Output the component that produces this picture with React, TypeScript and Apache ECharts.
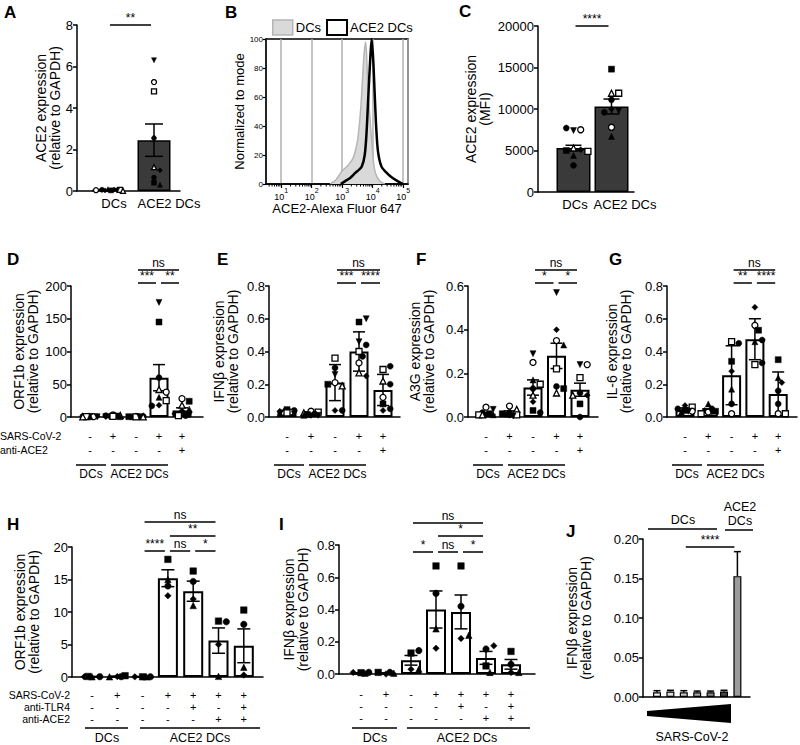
import React, { useEffect, useRef } from "react";
import * as echarts from "echarts";

const FONT = "'Liberation Sans', Arial, Helvetica, sans-serif";

// ---------------- data ----------------
// Panel A
const A_CATS = ["DCs", "ACE2 DCs"];
const A_MEAN = [0.05, 2.45];
const A_ERR = [0.02, 0.78];
const A_PTS = [
  [0.09, 0.07, 0.06, 0.05, 0.04, 0.03, 0.03, 0.02, 0.01],
  [6.3, 5.25, 4.8, 2.55, 1.15, 1.0, 0.65, 0.4, 0.3],
];
const A_SYM = ["tdcSosdvT", "voScTdcst"];
const A_SIG_PAIRS = [[0, 1]];
const A_SIG_TEXT = ["**"];

// Panel B (flow histogram)
const B_DC_X = [400, 630, 1000, 1580, 2300, 2800, 3300, 4000, 4600, 5250, 5900, 6300, 6900, 7900, 9300, 10700, 12600, 17000, 25000];
const B_DC_Y = [0, 3, 9, 13, 18, 24, 32, 50, 70, 90, 98, 90, 70, 50, 30, 15, 7, 2, 0];
const B_ACE_X = [900, 1260, 1780, 2500, 3200, 4400, 5500, 6300, 7200, 8300, 9300, 10500, 11700, 13200, 15100, 19500, 28000, 40000, 66000, 100000];
const B_ACE_Y = [0, 2, 4, 7, 9, 12, 20, 35, 60, 85, 100, 85, 62, 38, 22, 12, 8, 5, 2, 0];
const B_NAMES = ["DCs", "ACE2 DCs"];

// Panel C
const C_CATS = ["DCs", "ACE2 DCs"];
const C_MEAN = [5300, 10300];
const C_ERR = [330, 900];
const C_PTS = [
  [7400, 7500, 7700, 5300, 5100, 5000, 4900, 4400, 3200],
  [14800, 11900, 11900, 11100, 10000, 9800, 9600, 7800, 6700],
];
const C_SYM = ["vocTdsStc", "sTScdvcot"];
const C_SIG_PAIRS = [[0, 1]];
const C_SIG_TEXT = ["****"];

// Rows of treatment signs
const ROW5_SARS = ["-", "+", "-", "+", "+"];
const ROW5_ACE2 = ["-", "-", "-", "-", "+"];
const ROW7_SARS = ["-", "+", "-", "+", "+", "+", "+"];
const ROW7_TLR4 = ["-", "-", "-", "-", "+", "-", "+"];
const ROW7_ACE2 = ["-", "-", "-", "-", "-", "+", "+"];
const GROUPS = ["DCs", "ACE2 DCs"];

// Panel D
const D_MEAN = [1, 2, 1, 60, 10];
const D_ERR = [0.5, 0.5, 0.3, 20, 4];
const D_PTS = [
  [1, 1, 1, 0.5, 0.5, 0.5, 0.5, 0.3],
  [3, 2.5, 2, 1.5, 1, 1, 0.5, 0.5],
  [1, 1, 0.5, 0.5, 0.5, 0.3, 0.3, 0.2],
  [175, 145, 60, 42, 38, 30, 25, 18, 17],
  [28, 24, 18, 12, 8, 5, 3, 2, 2],
];
const D_SYM = ["sdcoStvT", "oTcsdStv", "ocsdtSTv", "vscTotSdc", "osTtcdvSc"];
const D_SIG_PAIRS = [[2, 4], [2, 3], [3, 4]];
const D_SIG_TEXT = ["ns", "***", "**"];

// Panel E
const E_MEAN = [0.03, 0.02, 0.21, 0.4, 0.165];
const E_ERR = [0.01, 0.01, 0.11, 0.12, 0.095];
const E_PTS = [
  [0.045, 0.04, 0.035, 0.03, 0.03, 0.025, 0.02, 0.02],
  [0.035, 0.03, 0.025, 0.02, 0.015, 0.01, 0.01, 0.01],
  [0.36, 0.3, 0.26, 0.21, 0.19, 0.2, 0.04, 0.04],
  [0.58, 0.6, 0.46, 0.44, 0.4, 0.33, 0.37, 0.27, 0.25],
  [0.29, 0.31, 0.22, 0.2, 0.12, 0.08, 0.04, 0.05],
];
const E_SYM = ["scdoTSvt", "oSTcsdvt", "ScvoTsdc", "svvcSocTd", "ScTcosdc"];
const E_SIG_PAIRS = [[2, 4], [2, 3], [3, 4]];
const E_SIG_TEXT = ["ns", "***", "****"];

// Panel F
const F_MEAN = [0.015, 0.02, 0.135, 0.28, 0.125];
const F_ERR = [0.005, 0.008, 0.035, 0.058, 0.03];
const F_PTS = [
  [0.045, 0.035, 0.02, 0.015, 0.01, 0.01, 0.01, 0.01],
  [0.05, 0.035, 0.02, 0.015, 0.01, 0.01, 0.005, 0.01],
  [0.29, 0.25, 0.17, 0.15, 0.13, 0.1, 0.07, 0.03, 0.02],
  [0.57, 0.4, 0.35, 0.33, 0.22, 0.14, 0.13, 0.11],
  [0.24, 0.24, 0.18, 0.11, 0.1, 0.1, 0.06, 0.0],
];
const F_SYM = ["ovcsSdtT", "oTcsSdvc", "votScTdsc", "vdotScsT", "voScdTsc"];
const F_SIG_PAIRS = [[2, 4], [2, 3], [3, 4]];
const F_SIG_TEXT = ["ns", "*", "*"];

// Panel G
const G_MEAN = [0.045, 0.04, 0.255, 0.475, 0.14];
const G_ERR = [0.01, 0.01, 0.18, 0.125, 0.135];
const G_PTS = [
  [0.07, 0.06, 0.05, 0.04, 0.035, 0.03, 0.035],
  [0.08, 0.05, 0.04, 0.035, 0.03, 0.02, 0.03],
  [0.46, 0.45, 0.34, 0.28, 0.17, 0.08, 0.02],
  [0.67, 0.56, 0.53, 0.46, 0.47, 0.32, 0.33],
  [0.35, 0.24, 0.21, 0.16, 0.08, 0.02, 0.02],
];
const G_SYM = ["dScsotv", "tcdsoSv", "Scsdtco", "dostcSc", "stdccoS"];
const G_SIG_PAIRS = [[2, 4], [2, 3], [3, 4]];
const G_SIG_TEXT = ["ns", "**", "****"];

// Panel H
const H_MEAN = [0.05, 0.08, 0.04, 15.2, 13.2, 5.6, 4.8];
const H_ERR = [0.02, 0.05, 0.02, 1.3, 1.55, 1.95, 2.6];
const H_PTS = [
  [0.03, 0.05, 0.02, 0.08],
  [0.06, 0.2, 0.03, 0.05],
  [0.03, 0.04, 0.02, 0.02],
  [18.1, 15.0, 14.0, 12.5],
  [16.3, 14.7, 12.0, 11.0],
  [8.6, 8.5, 5.0, 0.1],
  [10.3, 8.1, 1.5, 0.3],
];
const H_SYM = ["tcds", "dstc", "scdt", "stcd", "scdt", "scdt", "sctd"];
const H_SIG_PAIRS = [[2, 5], [3, 5], [2, 3], [3, 4], [4, 5]];
const H_SIG_TEXT = ["ns", "**", "****", "ns", "*"];

// Panel I
const I_MEAN = [0.005, 0.005, 0.085, 0.4, 0.385, 0.1, 0.06];
const I_ERR = [0.002, 0.002, 0.03, 0.115, 0.105, 0.04, 0.03];
const I_PTS = [
  [0.008, 0.01, 0.01, 0.005],
  [0.0, 0.005, 0.01, 0.01],
  [0.13, 0.145, 0.03, 0.03],
  [0.67, 0.5, 0.28, 0.16],
  [0.67, 0.42, 0.22, 0.24],
  [0.155, 0.175, 0.05, 0.01],
  [0.14, 0.06, 0.01, 0.01],
];
const I_SYM = ["scdt", "dtsc", "scdt", "sctd", "scdt", "cdst", "scdt"];
const I_SIG_PAIRS = [[2, 5], [3, 5], [2, 3], [3, 4], [4, 5]];
const I_SIG_TEXT = ["ns", "*", "*", "ns", "*"];

// Panel J
const J_MEAN = [0.006, 0.007, 0.006, 0.006, 0.006, 0.007, 0.153];
const J_ERR = [0.002, 0.0015, 0.002, 0.0015, 0.0015, 0.0015, 0.031];
const J_SIG_PAIRS = [[2, 6]];
const J_SIG_TEXT = ["****"];

// ---------------- styling ----------------
const J_COLORS = ["#f7f7f7", "#dedede", "#c9c9c9", "#aaaaaa", "#8a8a8a", "#454545", "#9b9b9b"];

const SYM: Record<string, { symbol: string; fill: boolean; rot?: number }> = {
  c: { symbol: "circle", fill: true },
  o: { symbol: "circle", fill: false },
  s: { symbol: "rect", fill: true },
  S: { symbol: "rect", fill: false },
  t: { symbol: "triangle", fill: true },
  T: { symbol: "triangle", fill: false },
  v: { symbol: "triangle", fill: true, rot: 180 },
  d: { symbol: "diamond", fill: true },
};

function swarm(vals: number[], ppu: number, size: number, maxOff: number): number[] {
  const placed: number[][] = [];
  const out: number[] = [];
  const step = size * 0.6;
  const cands: number[] = [0];
  for (let k = 1; k * step <= maxOff + 0.01; k++) cands.push(k * step, -k * step);
  for (const v of vals) {
    const y = v * ppu;
    let best = 0;
    let bestD = -1;
    for (const c of cands) {
      let d = Infinity;
      for (const [px, py] of placed) d = Math.min(d, Math.hypot(px - c, py - y));
      if (d >= size) {
        best = c;
        bestD = d;
        break;
      }
      if (d > bestD) {
        bestD = d;
        best = c;
      }
    }
    placed.push([best, y]);
    out.push(best);
  }
  return out;
}

function txt(x: number, y: number, text: string, o: any = {}) {
  const align = o.align ?? "center";
  const va = o.va ?? "middle";
  return {
    type: "text",
    x,
    y,
    silent: true,
    style: {
      text,
      fill: "#000",
      fontSize: o.size ?? 12,
      fontFamily: FONT,
      fontWeight: o.bold ? "bold" : "normal",
      align,
      verticalAlign: va,
      textAlign: align,
      textVerticalAlign: va,
    },
  };
}
function ln(x1: number, y1: number, x2: number, y2: number, w = 1.5) {
  return { type: "line", silent: true, shape: { x1, y1, x2, y2 }, style: { stroke: "#000", lineWidth: w } };
}

function buildOption() {
  const grids: any[] = [];
  const xAxes: any[] = [];
  const yAxes: any[] = [];
  const series: any[] = [];

  const addBarPanel = (p: any) => {
    const gi = grids.length;
    const idx = p.mean.map((_: any, i: number) => i);
    grids.push({ left: p.left, top: p.top, width: p.right - p.left, height: p.bottom - p.top, containLabel: false });
    const xmin = -(p.c1 - p.left) / p.sp;
    const xmax = (p.right - p.c1) / p.sp;
    xAxes.push({
      gridIndex: gi,
      type: "value",
      min: xmin,
      max: xmax,
      axisLine: { show: true, onZero: false, lineStyle: { color: "#000", width: 1.5 } },
      axisTick: { show: false },
      splitLine: { show: false },
      axisLabel: p.xLabel
        ? {
            show: true,
            customValues: idx,
            formatter: (v: number) => p.xLabel(Math.round(v)),
            color: "#000",
            fontFamily: FONT,
            fontSize: p.xFont ?? 11,
            lineHeight: p.xLine ?? 14,
            margin: p.xMargin ?? 12,
            hideOverlap: false,
          }
        : { show: false },
    });
    yAxes.push({
      gridIndex: gi,
      type: "value",
      min: 0,
      max: p.ymax,
      interval: p.yint,
      axisLine: { show: true, onZero: false, lineStyle: { color: "#000", width: 1.5 } },
      axisTick: { show: true, length: 4, lineStyle: { color: "#000", width: 1.5 } },
      splitLine: { show: false },
      axisLabel: {
        color: "#000",
        fontFamily: FONT,
        fontSize: 13,
        margin: 4,
        formatter: (v: number) => v.toFixed(p.dec),
      },
      name: p.name,
      nameLocation: "middle",
      nameRotate: 90,
      nameGap: p.nameGap,
      nameTextStyle: { fontSize: 14, lineHeight: 14, color: "#000", fontFamily: FONT },
    });
    series.push({
      type: "bar",
      xAxisIndex: gi,
      yAxisIndex: gi,
      barWidth: p.barW,
      silent: true,
      z: 2,
      data: p.mean.map((m: number, i: number) => ({
        value: [i, m],
        itemStyle: {
          color: p.colors ? p.colors[i] : p.fill,
          borderColor: "#000",
          borderWidth: p.bw,
          opacity: 1,
        },
      })),
    });
    // error bars
    series.push({
      type: "custom",
      xAxisIndex: gi,
      yAxisIndex: gi,
      silent: true,
      z: 4,
      data: p.mean.map((m: number, i: number) => [i, m, p.err[i]]),
      renderItem: (params: any, api: any) => {
        const x = api.value(0);
        const m = api.value(1);
        const e = api.value(2);
        const hi = api.coord([x, m + e]);
        const lo = api.coord([x, p.upOnly ? m : m - e]);
        const cw = p.capW / 2;
        const st = { stroke: "#000", lineWidth: 1.5 };
        const ch: any[] = [
          { type: "line", shape: { x1: hi[0], y1: hi[1], x2: lo[0], y2: lo[1] }, style: st },
          { type: "line", shape: { x1: hi[0] - cw, y1: hi[1], x2: hi[0] + cw, y2: hi[1] }, style: st },
        ];
        if (!p.upOnly) ch.push({ type: "line", shape: { x1: lo[0] - cw, y1: lo[1], x2: lo[0] + cw, y2: lo[1] }, style: st });
        return { type: "group", children: ch };
      },
    });
    // points
    if (p.pts) {
      const ppu = (p.bottom - p.top) / p.ymax;
      const items: any[] = [];
      p.pts.forEach((grp: number[], i: number) => {
        const offs = swarm(grp, ppu, p.size, p.barW / 2 + 1);
        grp.forEach((v, k) => {
          const s = SYM[p.sym[i][k]] || SYM.c;
          items.push({
            value: [i, v],
            symbol: s.symbol,
            symbolRotate: s.rot ?? 0,
            symbolOffset: [offs[k], 0],
            itemStyle: s.fill
              ? { color: "#000", borderColor: "#000", borderWidth: 0.5, opacity: 1 }
              : { color: "#fff", borderColor: "#000", borderWidth: 1.3, opacity: 1 },
          });
        });
      });
      series.push({
        type: "scatter",
        xAxisIndex: gi,
        yAxisIndex: gi,
        silent: true,
        z: 5,
        symbolSize: p.size,
        itemStyle: { opacity: 1 },
        data: items,
      });
    }
    // significance brackets
    series.push({
      type: "custom",
      xAxisIndex: gi,
      yAxisIndex: gi,
      silent: true,
      z: 6,
      data: p.sigPairs.map((pr: number[]) => [pr[0], 0, pr[1]]),
      renderItem: (params: any, api: any) => {
        const i = params.dataIndex;
        const a = api.value(0);
        const b = api.value(2);
        const ta = api.coord([a, p.ymax]);
        const tb = api.coord([b, p.ymax]);
        const y = ta[1] - p.sigOff[i];
        const x1 = ta[0] + 2;
        const x2 = tb[0] - 3;
        const t = p.sigText[i];
        return {
          type: "group",
          children: [
            { type: "line", shape: { x1, y1: y, x2, y2: y }, style: { stroke: "#000", lineWidth: 1.5 } },
            {
              type: "text",
              x: (x1 + x2) / 2,
              y: y - 1,
              style: {
                text: t,
                fill: "#000",
                fontSize: 12,
                fontFamily: FONT,
                align: "center",
                verticalAlign: "bottom",
                textAlign: "center",
                textVerticalAlign: "bottom",
              },
            },
          ],
        };
      },
    });
    return gi;
  };

  const rows5 = (i: number) => `${ROW5_SARS[i]}\n${ROW5_ACE2[i]}`;
  const rows7 = (i: number) => `${ROW7_SARS[i]}\n${ROW7_TLR4[i]}\n${ROW7_ACE2[i]}`;

  // A
  addBarPanel({
    left: 77, right: 180, top: 25, bottom: 191, c1: 108, sp: 46, barW: 33,
    ymax: 8, yint: 2, dec: 0, fill: "#3a3a3a", bw: 1.5,
    mean: A_MEAN, err: A_ERR, pts: A_PTS, sym: A_SYM, size: 5, capW: 18,
    name: "ACE2 expression\n(relative to GAPDH)", nameGap: 13.5,
    sigPairs: A_SIG_PAIRS, sigText: A_SIG_TEXT, sigOff: [0],
  });
  // C
  addBarPanel({
    left: 538, right: 634, top: 26, bottom: 192, c1: 573.5, sp: 38, barW: 34,
    ymax: 20000, yint: 5000, dec: 0, fill: "#3a3a3a", bw: 1.5,
    mean: C_MEAN, err: C_ERR, pts: C_PTS, sym: C_SYM, size: 6, capW: 16,
    name: "ACE2 expression\n(MFI)", nameGap: 46.5,
    sigPairs: C_SIG_PAIRS, sigText: C_SIG_TEXT, sigOff: [0],
  });
  const common5 = { top: 286, bottom: 417, barW: 19, fill: "#fff", bw: 2, size: 6, capW: 12, xLabel: rows5, xFont: 11, xLine: 14, xMargin: 12, sigOff: [16, 3, 3] };
  addBarPanel({ ...common5, left: 71, right: 203, c1: 90, sp: 23, ymax: 200, yint: 50, dec: 0,
    mean: D_MEAN, err: D_ERR, pts: D_PTS, sym: D_SYM, name: "ORF1b expression\n(relative to GAPDH)", nameGap: 31,
    sigPairs: D_SIG_PAIRS, sigText: D_SIG_TEXT });
  addBarPanel({ ...common5, left: 269, right: 400, c1: 287, sp: 24, ymax: 0.8, yint: 0.2, dec: 1,
    mean: E_MEAN, err: E_ERR, pts: E_PTS, sym: E_SYM, name: "IFNβ expression\n(relative to GAPDH)", nameGap: 29.5,
    sigPairs: E_SIG_PAIRS, sigText: E_SIG_TEXT });
  addBarPanel({ ...common5, left: 468, right: 598, c1: 486, sp: 23.5, ymax: 0.6, yint: 0.2, dec: 1,
    mean: F_MEAN, err: F_ERR, pts: F_PTS, sym: F_SYM, name: "A3G expression\n(relative to GAPDH)", nameGap: 32.5,
    sigPairs: F_SIG_PAIRS, sigText: F_SIG_TEXT });
  addBarPanel({ ...common5, left: 667, right: 797, c1: 685, sp: 23.3, ymax: 0.8, yint: 0.2, dec: 1,
    mean: G_MEAN, err: G_ERR, pts: G_PTS, sym: G_SYM, name: "IL-6 expression\n(relative to GAPDH)", nameGap: 34.5,
    sigPairs: G_SIG_PAIRS, sigText: G_SIG_TEXT });
  // H
  addBarPanel({
    left: 72, right: 263, top: 547, bottom: 677, c1: 92, sp: 25.3, barW: 20, fill: "#fff", bw: 2,
    ymax: 20, yint: 5, dec: 0, mean: H_MEAN, err: H_ERR, pts: H_PTS, sym: H_SYM, size: 6.5, capW: 13,
    name: "ORF1b expression\n(relative to GAPDH)", nameGap: 31,
    sigPairs: H_SIG_PAIRS, sigText: H_SIG_TEXT, sigOff: [25, 11, -4, -4, -4],
    xLabel: rows7, xFont: 11, xLine: 12, xMargin: 12,
  });
  // I
  addBarPanel({
    left: 339, right: 535, top: 545, bottom: 674, c1: 361, sp: 25, barW: 20, fill: "#fff", bw: 2,
    ymax: 0.8, yint: 0.2, dec: 1, mean: I_MEAN, err: I_ERR, pts: I_PTS, sym: I_SYM, size: 6.5, capW: 13,
    name: "IFNβ expression\n(relative to GAPDH)", nameGap: 29.5,
    sigPairs: I_SIG_PAIRS, sigText: I_SIG_TEXT, sigOff: [22, 9, -7, -7, -7],
    xLabel: rows7, xFont: 11, xLine: 12, xMargin: 14,
  });
  // J
  addBarPanel({
    left: 643, right: 750, top: 539, bottom: 697, c1: 657, sp: 13.4, barW: 8, bw: 1.2,
    colors: J_COLORS, ymax: 0.2, yint: 0.05, dec: 2, mean: J_MEAN, err: J_ERR, capW: 7, upOnly: true,
    name: "IFNβ expression\n(relative to GAPDH)", nameGap: 50.5,
    sigPairs: J_SIG_PAIRS, sigText: J_SIG_TEXT, sigOff: [-8],
  });

  // B (histogram)
  const gb = grids.length;
  grids.push({ left: 266, top: 39, width: 142, height: 145, containLabel: false, show: true, borderColor: "#000", borderWidth: 1.5, backgroundColor: "transparent" });
  xAxes.push({
    gridIndex: gb,
    type: "log",
    logBase: 10,
    min: 3.16,
    max: 145000,
    axisLine: { show: true, onZero: false, lineStyle: { color: "#000", width: 1.5 } },
    axisTick: { show: true, length: 4, lineStyle: { color: "#000", width: 1.2 } },
    splitLine: { show: true, lineStyle: { color: "#b0b0b0", width: 1.5 } },
    axisLabel: {
      showMinLabel: false,
      showMaxLabel: false,
      margin: 3,
      formatter: (v: number) => `{b|10}{s|${Math.round(Math.log10(v))}}`,
      rich: {
        b: { fontSize: 9, fontFamily: FONT, color: "#000", lineHeight: 14, verticalAlign: "bottom" },
        s: { fontSize: 7, fontFamily: FONT, color: "#000", lineHeight: 14, verticalAlign: "top" },
      },
    },
    name: "ACE2-Alexa Fluor 647",
    nameLocation: "middle",
    nameGap: 11,
    nameTextStyle: { fontSize: 13, color: "#000", fontFamily: FONT },
  });
  yAxes.push({
    gridIndex: gb,
    type: "value",
    min: 0,
    max: 100,
    interval: 20,
    axisLine: { show: true, onZero: false, lineStyle: { color: "#000", width: 1.5 } },
    axisTick: { show: true, length: 3, lineStyle: { color: "#000", width: 1.2 } },
    splitLine: { show: false },
    axisLabel: { fontSize: 8, color: "#000", fontFamily: FONT, margin: 3 },
    name: "Normalized to mode",
    nameLocation: "middle",
    nameRotate: 90,
    nameGap: 15.5,
    nameTextStyle: { fontSize: 13, color: "#000", fontFamily: FONT },
  });
  series.push({
    type: "line",
    name: B_NAMES[0],
    xAxisIndex: gb,
    yAxisIndex: gb,
    smooth: 0.3,
    symbol: "none",
    silent: true,
    z: 2,
    lineStyle: { color: "#b5b5b5", width: 1.5 },
    itemStyle: { color: "#d9d9d9" },
    areaStyle: { color: "#d9d9d9", opacity: 1 },
    data: B_DC_X.map((x, i) => [x, B_DC_Y[i]]),
  });
  series.push({
    type: "line",
    name: B_NAMES[1],
    xAxisIndex: gb,
    yAxisIndex: gb,
    smooth: 0.3,
    symbol: "none",
    silent: true,
    z: 3,
    lineStyle: { color: "#000", width: 2.5 },
    itemStyle: { color: "#fff" },
    data: B_ACE_X.map((x, i) => [x, B_ACE_Y[i]]),
  });
  // log minor ticks
  const minor: number[][] = [];
  for (let d = 0; d <= 5; d++) {
    for (let k = 2; k <= 9; k++) {
      const v = k * Math.pow(10, d);
      if (v > 3.16 && v < 145000) minor.push([v, 0]);
    }
  }
  series.push({
    type: "custom",
    xAxisIndex: gb,
    yAxisIndex: gb,
    silent: true,
    z: 4,
    data: minor,
    renderItem: (params: any, api: any) => {
      const p = api.coord([api.value(0), 0]);
      return { type: "line", shape: { x1: p[0], y1: p[1], x2: p[0], y2: p[1] + 2.5 }, style: { stroke: "#000", lineWidth: 1 } };
    },
  });

  // ---------------- graphic annotations ----------------
  const g: any[] = [];
  const letters: [string, number, number][] = [
    ["A", 4, 4], ["B", 225, 4], ["C", 459, 3], ["D", 7, 251], ["E", 217, 251], ["F", 416, 251],
    ["G", 609, 251], ["H", 7, 516], ["I", 279, 516], ["J", 566, 523],
  ];
  letters.forEach(([t, x, y]) => g.push(txt(x, y, t, { size: 17, bold: true, align: "left", va: "top" })));

  // category labels for A and C
  g.push(txt(114, 203, A_CATS[0], { size: 13 }));
  g.push(txt(169, 203, A_CATS[1], { size: 13 }));
  g.push(txt(575, 204, C_CATS[0], { size: 13 }));
  g.push(txt(625, 204, C_CATS[1], { size: 13 }));

  // row titles
  g.push(txt(0, 436, "SARS-CoV-2", { size: 10.5, align: "left" }));
  g.push(txt(0, 450, "anti-ACE2", { size: 10.5, align: "left" }));
  g.push(txt(70, 695, "SARS-CoV-2", { size: 10.5, align: "right" }));
  g.push(txt(70, 707, "anti-TLR4", { size: 10.5, align: "right" }));
  g.push(txt(70, 719, "anti-ACE2", { size: 10.5, align: "right" }));

  // group labels under D-G
  [71, 269, 468, 667].forEach((L) => {
    g.push(ln(L + 5, 465, L + 35, 465));
    g.push(ln(L + 40, 465, L + 97, 465));
    g.push(txt(L + 20, 474, GROUPS[0], { size: 12 }));
    g.push(txt(L + 68.5, 474, GROUPS[1], { size: 12 }));
  });
  // H, I group labels
  g.push(ln(85, 728, 128, 728));
  g.push(ln(140, 728, 260, 728));
  g.push(txt(107, 738, GROUPS[0], { size: 12.5 }));
  g.push(txt(200, 738, GROUPS[1], { size: 12.5 }));
  g.push(ln(352, 728, 397, 728));
  g.push(ln(407, 728, 530, 728));
  g.push(txt(375, 738, GROUPS[0], { size: 12.5 }));
  g.push(txt(467, 738, GROUPS[1], { size: 12.5 }));

  // J annotations
  g.push(ln(648, 529, 717, 529));
  g.push(txt(683, 520, "DCs", { size: 12.5 }));
  g.push(ln(725, 530, 753, 530));
  g.push(txt(740, 507, "ACE2", { size: 12.5 }));
  g.push(txt(740, 521, "DCs", { size: 12.5 }));
  g.push({
    type: "polygon",
    silent: true,
    shape: { points: [[647, 711], [731, 704], [731, 723], [647, 716]] },
    style: { fill: "#000" },
  });
  g.push(txt(692, 737, "SARS-CoV-2", { size: 12.5 }));

  return {
    animation: false,
    backgroundColor: "#fff",
    textStyle: { fontFamily: FONT },
    legend: {
      left: 267,
      top: 14,
      itemWidth: 20,
      itemHeight: 15,
      itemGap: 5,
      selectedMode: false,
      textStyle: { fontSize: 13, color: "#000", fontFamily: FONT, padding: [0, 0, 0, -2] },
      data: [
        { name: B_NAMES[0], icon: "rect", itemStyle: { color: "#d9d9d9", borderColor: "#b5b5b5", borderWidth: 1.5 } },
        { name: B_NAMES[1], icon: "rect", itemStyle: { color: "#fff", borderColor: "#000", borderWidth: 2 } },
      ],
    },
    grid: grids,
    xAxis: xAxes,
    yAxis: yAxes,
    series,
    graphic: { elements: g },
  };
}

export default function App() {
  const ref = useRef<HTMLDivElement>(null);
  useEffect(() => {
    if (!ref.current) return;
    const chart = echarts.init(ref.current, undefined, { renderer: "svg" });
    chart.setOption(buildOption() as any);
    return () => chart.dispose();
  }, []);
  return (
    <div
      ref={ref}
      style={{ position: "absolute", left: 0, top: 0, width: 800, height: 745, background: "#fff" }}
    />
  );
}
